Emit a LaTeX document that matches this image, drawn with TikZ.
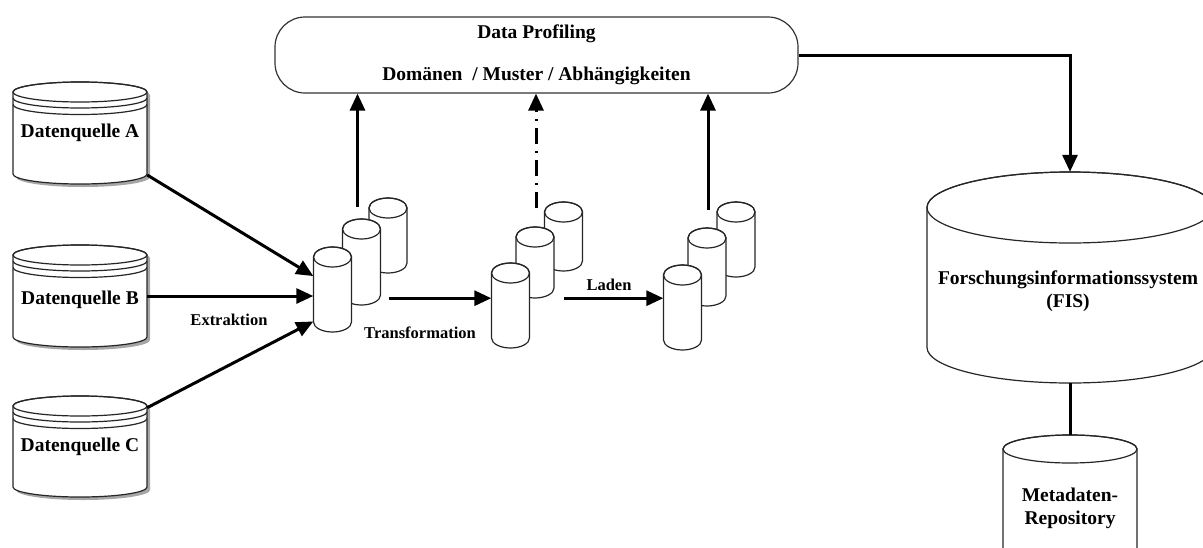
\documentclass[tikz,border=0pt]{standalone}
\usepackage{fontspec}
\setmainfont{Liberation Serif}
\usetikzlibrary{arrows.meta,calc}

\tikzset{
  lbl/.style={font=\fontsize{19.5}{23}\selectfont\bfseries, align=center},
  small/.style={font=\fontsize{16.5}{20}\selectfont\bfseries},
  arr/.style={line width=3pt, -{Triangle[length=17pt,width=15pt]}},
  link/.style={line width=3pt},
  dashdot/.style={line width=3pt, dash pattern=on 16pt off 7pt on 2pt off 7pt,
    -{Triangle[length=17pt,width=15pt]}},
  drumline/.style={line width=1.2pt, draw=black!85, fill=white},
  rimline/.style={line width=1.2pt, draw=black!85},
}

% outline of a standing cylinder: centre x, top y, bottom y (y grows downward), radii
\newcommand\drumbody[6]{%
  \path[#1] ({#2-#5},{-(#3)-(#6)}) -- ({#2-#5},{-(#4)+(#6)})
    arc[start angle=180,end angle=360,x radius=#5,y radius=#6]
    -- ({#2+#5},{-(#3)-(#6)})
    arc[start angle=0,end angle=180,x radius=#5,y radius=#6] -- cycle;}

% cylinder with its top rim and a named node covering it
\newcommand\drum[6]{%
  \drumbody{drumline}{#2}{#3}{#4}{#5}{#6}
  \draw[rimline] ({#2},{-(#3)-(#6)}) ellipse[x radius=#5,y radius=#6];
  \node[inner sep=0pt,minimum width={2*#5},minimum height={#4-#3}] (#1) at ({#2},{-(#3+#4)/2}) {};}

% data source: shadowed cylinder with two extra rim lines
\newcommand\source[4]{%
  \drumbody{fill=black!35, shift={(3,-3)}}{#2}{#3}{#4}{67}{10}
  \drum{#1}{#2}{#3}{#4}{67}{10}
  \draw[rimline] ({#2-67},{-(#3)-16}) arc[start angle=180,end angle=360,x radius=67,y radius=10];
  \draw[rimline] ({#2-67},{-(#3)-22.5}) arc[start angle=180,end angle=360,x radius=67,y radius=10];}

\begin{document}
\begin{tikzpicture}[x=1pt,y=1pt]
\useasboundingbox (0,0) rectangle (1203,-547);

% data sources
\source{A}{80}{82}{184}
\source{B}{80}{245}{347}
\source{C}{80}{396}{497}
\node[lbl] (At) at (80,-133) {Datenquelle A};
\node[lbl] (Bt) at (80,-300) {Datenquelle B};
\node[lbl] (Ct) at (80,-447) {Datenquelle C};

% staging stacks
\drum{S1c}{388}{198}{273}{19}{10}
\drum{S1b}{361.5}{219}{305}{19}{10}
\drum{S1a}{332.5}{247}{332}{19}{10}

\drum{S2c}{563.5}{202}{271}{19}{10}
\drum{S2b}{535}{227}{298}{19}{10}
\drum{S2a}{510.5}{263}{348}{19}{10}

\drum{S3c}{736}{202}{277}{19}{10}
\drum{S3b}{707}{228}{306}{19}{10}
\drum{S3a}{682.5}{265}{350}{19}{10}

% data profiling
\node[draw=black!80, line width=1.2pt, rounded corners=30pt, minimum width=523pt,
  minimum height=76pt, lbl] (DP) at (536.5,-55)
  {Data Profiling\\[19pt]Domänen\ \ / Muster / Abhängigkeiten};

% research information system and metadata repository
\drum{FIS}{1070}{172}{383}{143}{35.5}
\node[lbl] (FISt) at (1068,-291) {Forschungsinformationssystem\\(FIS)};
\drum{MR}{1070}{435}{562}{67}{14}
\node[lbl] (MRt) at (1070,-508) {Metadaten-\\Repository};

% extraction
\draw[arr] (A.-32) -- (S1a.145);
\draw[arr] (B.east) -- (B.east -| S1a.west);
\draw[arr] (C.30) -- (S1a.239);
\node[small] (lx) at (229,-320) {Extraktion};

% transformation and loading
\coordinate (t0) at ([xshift=8pt,yshift=7pt]S1b.south east);
\draw[arr] (t0) -- (t0 -| S2a.west);
\node[small] (lt) at (420,-333) {Transformation};
\coordinate (t1) at ([xshift=10pt]S2b.south east);
\draw[arr] (t1) -- (t1 -| S3a.west);
\node[small] (ll) at (609,-285) {Laden};

% profiling feeds
\coordinate (u1) at ([xshift=-4pt,yshift=12pt]S1b.north);
\draw[arr] (u1) -- (u1 |- DP.south);
\coordinate (u2) at ([xshift=1pt,yshift=19pt]S2b.north);
\draw[dashdot] (u2) -- (u2 |- DP.south);
\coordinate (u3) at ([xshift=1pt,yshift=18pt]S3b.north);
\draw[arr] (u3) -- (u3 |- DP.south);

\draw[arr] (DP.east) -| (FIS.north);
\draw[link] (FIS.south) -- (MR.north);
\end{tikzpicture}
\end{document}
